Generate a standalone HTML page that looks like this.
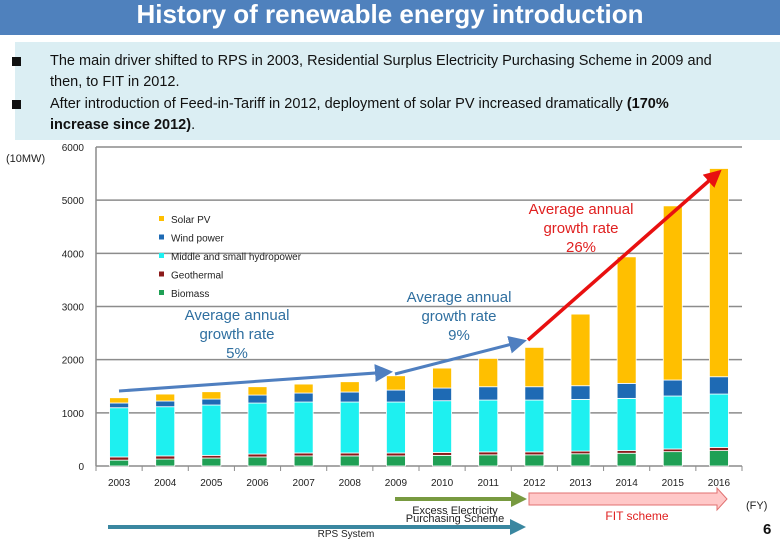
<!DOCTYPE html>
<html><head><meta charset="utf-8"><style>
html,body{margin:0;padding:0;background:#fff;}
#root{position:relative;width:780px;height:540px;overflow:hidden;font-family:"Liberation Sans",sans-serif;}
.hdr{position:absolute;left:0;top:0;width:780px;height:35px;background:#4f81bd;color:#fff;font-weight:bold;font-size:26px;text-align:center;line-height:29px;}
.box{position:absolute;left:15px;top:42px;width:765px;height:98px;background:#dbeef3;}
.b{position:absolute;left:15px;font-size:14.5px;color:#111;line-height:21px;}
.b span.sq{position:absolute;left:-3px;top:6px;width:9px;height:9px;background:#111;}
.b .t{margin-left:35px;display:block;width:662px;}
</style></head><body>
<div id="root">
<div class="hdr">History of renewable energy introduction</div>
<div class="box"></div>
<div class="b" style="top:51px"><span class="sq"></span><span class="t">The main driver shifted to RPS in 2003, Residential Surplus Electricity Purchasing Scheme in 2009 and then, to FIT in 2012.</span></div>
<div class="b" style="top:94px"><span class="sq"></span><span class="t">After introduction of Feed-in-Tariff in 2012, deployment of solar PV increased dramatically <b>(170% increase since 2012)</b>.</span></div>
<svg id="chart" width="780" height="540" style="position:absolute;left:0;top:0"></svg>
</div>
<script>
const years=["2003","2004","2005","2006","2007","2008","2009","2010","2011","2012","2013","2014","2015","2016"];
const biomass=[110,130,150,170,190,190,190,200,210,210,230,240,270,290];
const geothermal=[60,60,50,55,55,55,55,55,55,55,50,50,50,60];
const hydro=[926,925,947,959,958,958,958,973,975,975,973,982,996,1003];
const wind=[89,107,112,150,169,188,225,238,251,251,257,282,301,326];
const solar=[99,131,138,157,169,194,269,376,533,740,1347,2380,3276,3917];
const yTicks=[0,1000,2000,3000,4000,5000,6000];
const seriesNames=["Biomass","Geothermal","Middle and small hydropower","Wind power","Solar PV"];
const NS="http://www.w3.org/2000/svg";
const svg=document.getElementById('chart');
const x0=96,x1=742,yBase=466,yTop=147,yMax=6000;
const bw=(x1-x0)/years.length;
function y(v){return yBase-(v/yMax)*(yBase-yTop);}
function xc(i){return x0+bw*(i+0.5);}
function mk(tag,attrs,name,txt){const e=document.createElementNS(NS,tag);for(const k in attrs)e.setAttribute(k,attrs[k]);


if(txt!==undefined)e.textContent=txt;svg.appendChild(e);return e;}
yTicks.forEach(t=>{
 mk('line',{x1:x0,x2:x1,y1:y(t),y2:y(t),stroke:'#8c8c8c','stroke-width':1.5},'gridline-'+t);
 mk('text',{x:84,y:y(t)+4,'text-anchor':'end','font-size':10,fill:'#222'},'y-tick-'+t,String(t));
});
mk('line',{x1:x0,x2:x0,y1:yTop,y2:yBase,stroke:'#8c8c8c','stroke-width':1.5},'y-axis');
mk('text',{x:6,y:162,'font-size':11,fill:'#222'},'y-axis-unit','(10MW)');
for(let i=0;i<=years.length;i++)mk('line',{x1:x0+bw*i,x2:x0+bw*i,y1:yBase,y2:yBase+5,stroke:'#8c8c8c'},'x-tick');
const series=[biomass,geothermal,hydro,wind,solar];
const colors=["#1fa055","#8b1a1a","#1ef0f0","#1e6ab4","#ffbf00"];
const keys=["biomass","geothermal","hydro","wind","solar"];
years.forEach((yr,i)=>{
 let acc=0;
 series.forEach((s,k)=>{
  const v=s[i];
  mk('rect',{x:xc(i)-9.5,y:y(acc+v),width:19,height:y(acc)-y(acc+v),fill:colors[k],stroke:'#fff','stroke-width':0.8},'bar-'+keys[k]+'-'+yr);
  acc+=v;
 });
 mk('text',{x:xc(i),y:486,'text-anchor':'middle','font-size':10,fill:'#222'},'x-tick-'+yr,yr);
});
[4,3,2,1,0].forEach((k,j)=>{
 mk('rect',{x:159,y:216+j*18.5,width:5,height:5,fill:colors[k]},'legend-swatch-'+keys[k]);
 mk('text',{x:171,y:223+j*18.5,'font-size':10,fill:'#222'},'legend-entry-'+keys[k],seriesNames[k]);
});
const defs=document.createElementNS(NS,'defs');svg.appendChild(defs);
defs.innerHTML='<marker id="ab" markerWidth="6" markerHeight="6" refX="5" refY="3" orient="auto"><path d="M0,0L6,3L0,6z" fill="#4f7fc0"/></marker><marker id="ar" markerWidth="5" markerHeight="5" refX="4" refY="2.5" orient="auto"><path d="M0,0L5,2.5L0,5z" fill="#e81010"/></marker><marker id="ag" markerWidth="4" markerHeight="4" refX="3" refY="2" orient="auto"><path d="M0,0L4,2L0,4z" fill="#789a40"/></marker><marker id="at" markerWidth="4" markerHeight="4" refX="3" refY="2" orient="auto"><path d="M0,0L4,2L0,4z" fill="#3a87a0"/></marker>';
mk('line',{x1:119,y1:391,x2:390,y2:372,stroke:'#4f7fc0','stroke-width':3,'marker-end':'url(#ab)'},'trend-arrow-rps');
mk('line',{x1:395,y1:374,x2:524,y2:341,stroke:'#4f7fc0','stroke-width':3,'marker-end':'url(#ab)'},'trend-arrow-surplus');
mk('line',{x1:528,y1:340,x2:719,y2:172,stroke:'#e81010','stroke-width':3.5,'marker-end':'url(#ar)'},'trend-arrow-fit');
function lbl(x,yy,lines,col,name){lines.forEach((l,i)=>mk('text',{x:x,y:yy+i*19,'text-anchor':'middle','font-size':15,fill:col},name,l));}
lbl(237,320,["Average annual","growth rate","5%"],'#2f6fa0','growth-label-5');
lbl(459,302,["Average annual","growth rate","9%"],'#2f6fa0','growth-label-9');
lbl(581,214,["Average annual","growth rate","26%"],'#e02020','growth-label-26');
mk('line',{x1:395,y1:499,x2:523,y2:499,stroke:'#789a40','stroke-width':4,'marker-end':'url(#ag)'},'surplus-scheme-arrow');
mk('line',{x1:108,y1:527,x2:522,y2:527,stroke:'#3a87a0','stroke-width':4,'marker-end':'url(#at)'},'rps-system-arrow');
mk('path',{d:'M529,493 L717,493 L717,488 L727,499 L717,510 L717,505 L529,505 Z',fill:'#ffc8c8',stroke:'#e07070','stroke-width':1},'fit-scheme-arrow');
mk('text',{x:455,y:514,'text-anchor':'middle','font-size':11,fill:'#222'},'surplus-scheme-label','Excess Electricity');
mk('text',{x:455,y:522,'text-anchor':'middle','font-size':11,fill:'#222'},'surplus-scheme-label-2','Purchasing Scheme');
mk('text',{x:346,y:537,'text-anchor':'middle','font-size':10,fill:'#222'},'rps-system-label','RPS System');
mk('text',{x:637,y:520,'text-anchor':'middle','font-size':12,fill:'#e02020'},'fit-scheme-label','FIT scheme');
mk('text',{x:746,y:509,'font-size':11,fill:'#222'},'x-axis-unit','(FY)');
mk('text',{x:763,y:534,'font-size':15,'font-weight':'bold',fill:'#111'},'page-number','6');
</script>
</body></html>
